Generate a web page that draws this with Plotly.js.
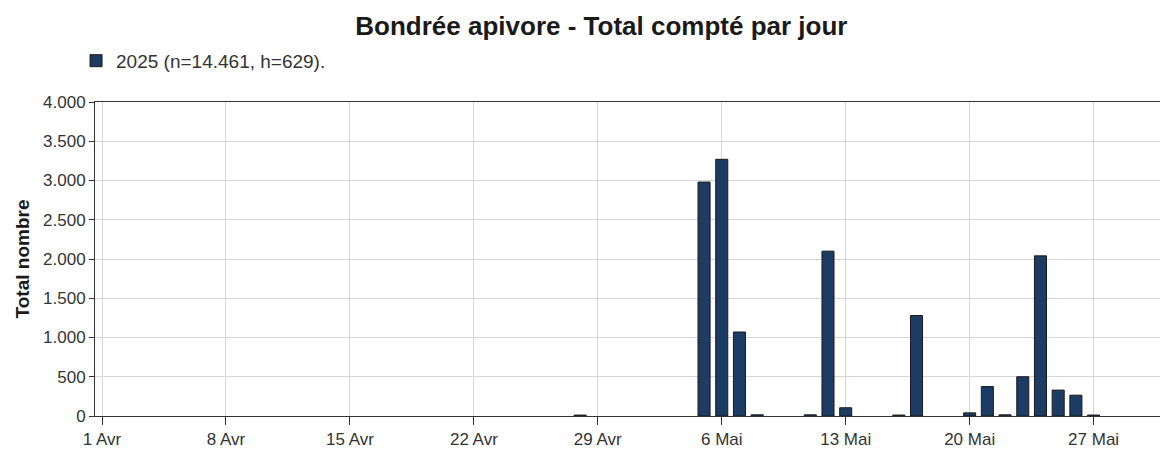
<!DOCTYPE html>
<html>
<head>
<meta charset="utf-8">
<script src="https://cdn.plot.ly/plotly-3.0.1.min.js"></script>
<style>html,body{margin:0;padding:0;background:#fff;}#chart{width:1161px;height:454px;}</style>
</head>
<body>
<div id="chart"></div>
<script>
// Data
const dates = ['2025-04-28','2025-05-05','2025-05-06','2025-05-07','2025-05-08','2025-05-11','2025-05-12','2025-05-13',
               '2025-05-16','2025-05-17','2025-05-20','2025-05-21','2025-05-22','2025-05-23','2025-05-24','2025-05-25',
               '2025-05-26','2025-05-27'];
const counts = [12, 2980, 3270, 1070, 15, 15, 2100, 105, 12, 1280, 40, 375, 15, 500, 2040, 330, 265, 12];
const seriesName = '2025 (n=14.461, h=629).';
const tickDates = ['2025-04-01','2025-04-08','2025-04-15','2025-04-22','2025-04-29','2025-05-06','2025-05-13','2025-05-20','2025-05-27'];
const tickLabels = ['1 Avr','8 Avr','15 Avr','22 Avr','29 Avr','6 Mai','13 Mai','20 Mai','27 Mai'];
const yTicks = [0,500,1000,1500,2000,2500,3000,3500,4000];
const yTickLabels = ['0','500','1.000','1.500','2.000','2.500','3.000','3.500','4.000'];

const font = "'Liberation Sans', Arial, sans-serif";
const trace = {
  type: 'bar', x: dates, y: counts, name: seriesName,
  width: 0.68 * 86400000,
  marker: {color: '#1c3c64', line: {color: '#1a1a1a', width: 1}},
  showlegend: true
};
const layout = {
  width: 1161, height: 454,
  margin: {l: 95, r: 1, t: 102, b: 38},
  paper_bgcolor: '#fff', plot_bgcolor: '#fff',
  font: {family: font, color: '#333', size: 17},
  title: {text: '<b>Bondrée apivore - Total compté par jour</b>', x: 0.518, xref: 'container', y: 0.943, yref: 'container',
          xanchor: 'center', yanchor: 'middle', font: {family: font, size: 26, color: '#1a1a1a'}},
  showlegend: true,
  legend: {x: 0.0655, xref: 'container', y: 0.866, yref: 'container', xanchor: 'left', yanchor: 'middle',
           orientation: 'h', font: {family: font, size: 19, color: '#333'}, bgcolor: 'rgba(0,0,0,0)'},
  xaxis: {type: 'date', range: ['2025-03-31 14:30', '2025-05-30 18:00'],
          tickmode: 'array', tickvals: tickDates, ticktext: tickLabels,
          showgrid: true, gridcolor: '#d6d6d6', gridwidth: 1,
          showline: true, linecolor: '#333', linewidth: 1, mirror: true,
          ticks: 'outside', ticklen: 8, tickcolor: '#333', tickfont: {family: font, size: 17, color: '#333'},
          zeroline: false, fixedrange: true},
  yaxis: {range: [0, 4000], tickmode: 'array', tickvals: yTicks, ticktext: yTickLabels,
          showgrid: true, gridcolor: '#d6d6d6', gridwidth: 1,
          showline: true, linecolor: '#333', linewidth: 1,
          ticks: 'outside', ticklen: 5, tickcolor: '#333', tickfont: {family: font, size: 17, color: '#333'},
          title: {text: '<b>Total nombre</b>', font: {family: font, size: 19, color: '#1a1a1a'}, standoff: 8},
          zeroline: false, fixedrange: true},
  bargap: 0.3
};
Plotly.newPlot('chart', [trace], layout, {displayModeBar: false, staticPlot: true});
</script>
</body>
</html>
